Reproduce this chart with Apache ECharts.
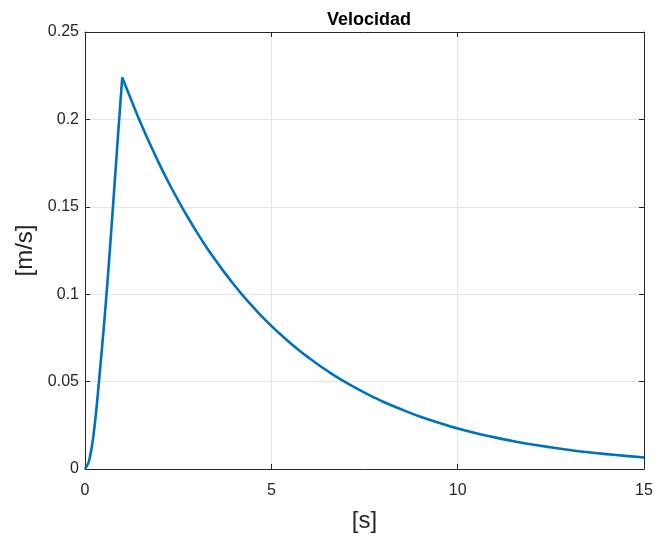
<!DOCTYPE html>
<html>
<head>
<meta charset="utf-8">
<script src="https://cdn.jsdelivr.net/npm/echarts@6/dist/echarts.min.js"></script>
<style>html,body{margin:0;padding:0;background:#fff}#c{width:655px;height:541px}</style>
</head>
<body>
<div id="c"></div>
<script>
var timeValues = [0, 0.1, 0.2, 0.3, 0.4, 0.5, 0.6, 0.7, 0.8, 0.9, 1.0,
  1.25, 1.5, 1.75, 2, 2.25, 2.5, 2.75, 3, 3.25, 3.5, 3.75, 4, 4.25, 4.5, 4.75, 5,
  5.25, 5.5, 5.75, 6, 6.25, 6.5, 6.75, 7, 7.25, 7.5, 7.75, 8, 8.5, 9, 9.5, 10,
  10.5, 11, 11.5, 12, 12.5, 13, 13.5, 14, 14.5, 15];
var velocityValues = [0, 0.004, 0.015, 0.033, 0.056, 0.080, 0.106, 0.135, 0.165, 0.195, 0.224,
  0.2106, 0.1976, 0.1856, 0.1743, 0.1636, 0.1537, 0.1443, 0.1355, 0.1272, 0.1195, 0.1122, 0.1054, 0.0989, 0.0929, 0.0872, 0.0819,
  0.0769, 0.0722, 0.0678, 0.0637, 0.0598, 0.0562, 0.0527, 0.0495, 0.0465, 0.0437, 0.0410, 0.0385, 0.0340, 0.0299, 0.0264, 0.0232,
  0.0205, 0.0181, 0.0159, 0.0140, 0.0124, 0.0109, 0.0096, 0.0085, 0.0075, 0.0066];
var peakIndex = 10; // t = 1 s: end of the rise, start of the decay
var xTicks = [0, 5, 10, 15];
var yTicks = ['0', '0.05', '0.1', '0.15', '0.2', '0.25'];

var data = timeValues.map(function (t, i) { return [t, velocityValues[i]]; });
var riseData = data.slice(0, peakIndex + 1);
var decayData = data.slice(peakIndex);
var axisColor = '#262626';
var font = 'Liberation Sans, Arial, sans-serif';
var lineStyle = { color: '#0072BD', width: 2.6, join: 'round' };

var chart = echarts.init(document.getElementById('c'));
chart.setOption({
  animation: false,
  backgroundColor: '#fff',
  title: {
    text: 'Velocidad', left: 364, top: 6, textAlign: 'center',
    textStyle: { fontFamily: font, fontSize: 18, fontWeight: 'bold', color: '#000' }
  },
  grid: { left: 85, right: 11, top: 32, bottom: 72, containLabel: false, outerBoundsMode: 'none' },
  xAxis: [{
    type: 'value', min: 0, max: 15, interval: 5,
    name: '[s]', nameLocation: 'middle', nameGap: 40,
    nameTextStyle: { fontFamily: font, fontSize: 24, color: axisColor },
    axisLine: { show: true, onZero: false, lineStyle: { color: axisColor, width: 1 } },
    axisTick: { show: true, inside: true, length: 5, lineStyle: { color: axisColor } },
    axisLabel: { fontFamily: font, fontSize: 16, color: axisColor, margin: 14,
      formatter: function (v) { return xTicks.indexOf(v) >= 0 ? String(v) : ''; } },
    splitLine: { show: true, lineStyle: { color: '#e5e5e5', width: 1 } }
  }, {
    type: 'value', min: 0, max: 15, interval: 5, position: 'top',
    axisLine: { show: true, onZero: false, lineStyle: { color: axisColor, width: 1 } },
    axisTick: { show: true, inside: true, length: 5, lineStyle: { color: axisColor } },
    axisLabel: { show: false }, splitLine: { show: false }
  }],
  yAxis: [{
    type: 'value', min: 0, max: 0.25, interval: 0.05,
    name: '[m/s]', nameLocation: 'middle', nameGap: 46,
    nameTextStyle: { fontFamily: font, fontSize: 24, color: axisColor },
    axisLine: { show: true, onZero: false, lineStyle: { color: axisColor, width: 1 } },
    axisTick: { show: true, inside: true, length: 5, lineStyle: { color: axisColor } },
    axisLabel: { fontFamily: font, fontSize: 16, color: axisColor, margin: 6,
      formatter: function (v, i) { return yTicks[i] !== undefined ? yTicks[i] : ''; } },
    splitLine: { show: true, lineStyle: { color: '#e5e5e5', width: 1 } }
  }, {
    type: 'value', min: 0, max: 0.25, interval: 0.05, position: 'right',
    axisLine: { show: true, onZero: false, lineStyle: { color: axisColor, width: 1 } },
    axisTick: { show: true, inside: true, length: 5, lineStyle: { color: axisColor } },
    axisLabel: { show: false }, splitLine: { show: false }
  }],
  series: [{
    type: 'line', data: riseData, xAxisIndex: 0, yAxisIndex: 0,
    showSymbol: false, smooth: 0.3, lineStyle: lineStyle
  }, {
    type: 'line', data: decayData, xAxisIndex: 0, yAxisIndex: 0,
    showSymbol: false, smooth: 0.4, lineStyle: lineStyle
  }]
});
</script>
</body>
</html>
